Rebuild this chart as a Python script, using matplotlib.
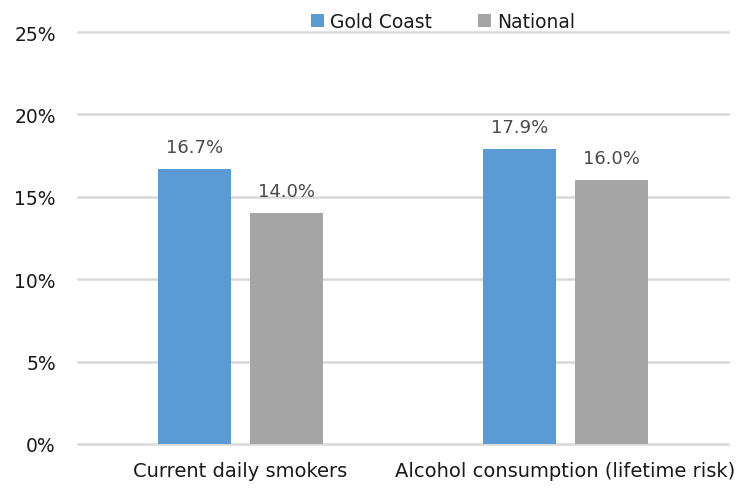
import matplotlib
matplotlib.use("Agg")
import matplotlib.pyplot as plt
import numpy as np

categories = ["Current daily smokers", "Alcohol consumption (lifetime risk)"]
series_names = ["Gold Coast", "National"]
gold_coast = [16.7, 17.9]
national = [14.0, 16.0]
y_ticks = [0, 5, 10, 15, 20, 25]

colors = ["#5b9bd5", "#a5a5a5"]
plt.rcParams["font.family"] = ["DejaVu Sans"]

fig = plt.figure(figsize=(7.38, 4.89), dpi=100)
ax = fig.add_axes([0.1057, 0.09, 0.8807, 0.8425])

x = np.arange(len(categories))
width = 0.225
offset = 0.142
for vals, name, col, dx in zip([gold_coast, national], series_names, colors, [-offset, offset]):
    bars = ax.bar(x + dx, vals, width, color=col, label=name, zorder=3)
    for b, v in zip(bars, vals):
        ax.annotate(f"{v:.1f}%", (b.get_x() + b.get_width() / 2, v),
                    xytext=(0, 9.5), textcoords="offset points",
                    ha="center", va="bottom", fontsize=13, color="#4a4a4a")

ax.set_xlim(-0.5, 1.5)
ax.set_ylim(0, 25)
ax.set_yticks(y_ticks)
ax.set_yticklabels([f"{t}%" for t in y_ticks])
ax.set_xticks(x)
ax.set_xticklabels(categories)
ax.tick_params(axis="both", length=0, labelsize=13.5, colors="#1a1a1a")
ax.tick_params(axis="x", labelsize=14, pad=12.5)
ax.tick_params(axis="y", pad=16)
ax.grid(axis="y", color="#d9d9d9", linewidth=1.8, zorder=0)
for gl in ax.get_ygridlines():
    gl.set_clip_on(False)
for s in ["top", "right", "left", "bottom"]:
    ax.spines[s].set_visible(False)

leg = ax.legend(loc="upper center", bbox_to_anchor=(0.5615, 1.09), ncol=2, frameon=False,
                fontsize=13.5, handlelength=0.7, handleheight=0.7, handletextpad=0.3,
                columnspacing=2.45)
for t in leg.get_texts():
    t.set_color("#1a1a1a")

fig.savefig("out.png", dpi=100)
